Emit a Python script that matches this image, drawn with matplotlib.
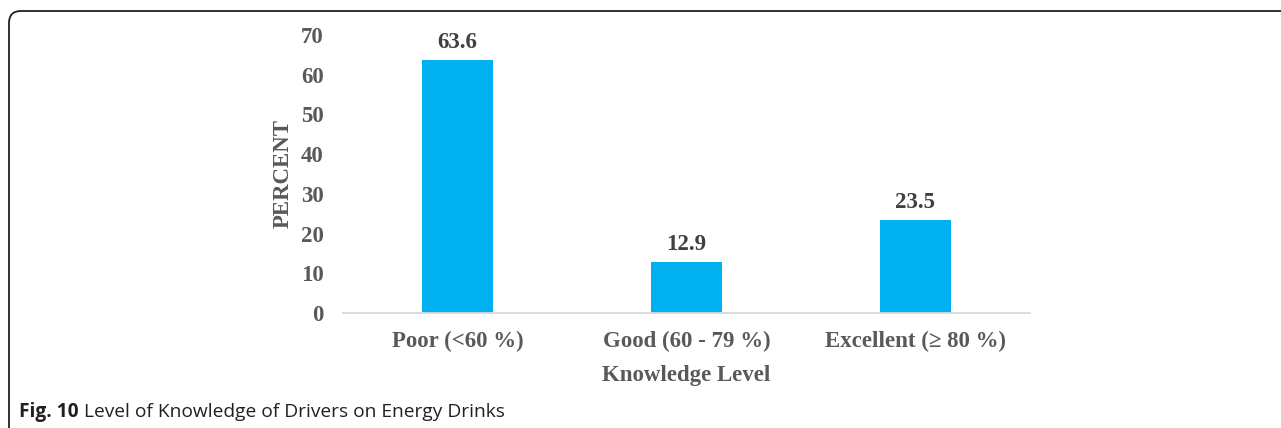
import matplotlib
matplotlib.use('Agg')
import matplotlib.pyplot as plt
from matplotlib.patches import FancyBboxPatch
from matplotlib.transforms import IdentityTransform

# data
categories = ['Poor (<60 %)', 'Good (60 - 79 %)', 'Excellent (\u2265 80 %)']
percent = [63.6, 12.9, 23.5]
yticks = [0, 10, 20, 30, 40, 50, 60, 70]

serif = ['Liberation Serif', 'DejaVu Serif']
W, H = 1281, 428
fig = plt.figure(figsize=(W / 100, H / 100), dpi=100)
ax = fig.add_axes([343 / W, 115 / H, 687 / W, 278 / H])

x = range(len(categories))
ax.bar(x, percent, width=0.314, color='#00B0F0')
for xi, v in zip(x, percent):
    ax.annotate(f'{v}', (xi, v), xytext=(0, 5), textcoords='offset points',
                ha='center', va='bottom', fontsize=16.5, fontweight='bold',
                family=serif, color='#404040')

ax.set_xlim(-0.5, 2.5)
ax.set_ylim(0, 70)
ax.set_yticks(yticks)
ax.set_yticklabels([str(t) for t in yticks], family=serif, fontweight='bold',
                   fontsize=16.5, color='#595959')
ax.set_xticks(list(x))
ax.set_xticklabels(categories, family=serif, fontweight='bold',
                   fontsize=16.5, color='#595959')
ax.tick_params(axis='y', length=0, pad=14)
ax.tick_params(axis='x', length=0, pad=13)
for s in ['top', 'right', 'left']:
    ax.spines[s].set_visible(False)
ax.spines['bottom'].set_color('#D9D9D9')
ax.spines['bottom'].set_linewidth(1.3)

ax.set_ylabel('PERCENT', family=serif, fontweight='bold', fontsize=16.5, color='#595959')
ax.yaxis.set_label_coords(-0.072, 0.5)
ax.set_xlabel('Knowledge Level', family=serif, fontweight='bold', fontsize=16.5,
              color='#595959', labelpad=9)

# frame around the figure (only top/left visible)
frame = FancyBboxPatch((9, -50), W + 50, H + 50 - 11,
                       boxstyle='round,pad=0,rounding_size=12',
                       transform=IdentityTransform(), fill=False,
                       edgecolor='#231F20', linewidth=1.3, clip_on=False)
fig.patches.append(frame)

# caption
t = fig.text(19 / W, 1 - 412 / H, 'Fig. 10', family='Open Sans', fontweight='bold',
             fontsize=13.8, va='center', ha='left', color='#231F20')
ax.annotate(' Level of Knowledge of Drivers on Energy Drinks', xy=(1, 0.5),
            xycoords=t, va='center', ha='left', family='Open Sans',
            fontsize=13.8, color='#231F20', annotation_clip=False)

fig.savefig('out.png', dpi=100)
